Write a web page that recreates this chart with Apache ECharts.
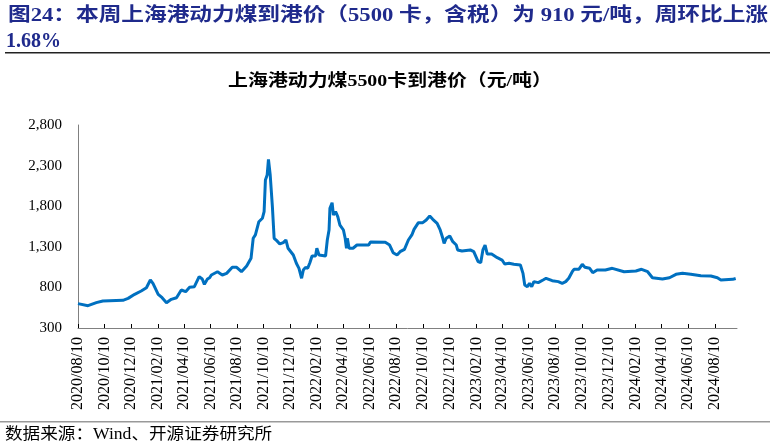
<!DOCTYPE html>
<html>
<head>
<meta charset="utf-8">
<script src="https://cdn.jsdelivr.net/npm/echarts@6/dist/echarts.min.js"></script>
<style>
  html, body { margin: 0; padding: 0; background: #fff; }
  #main { width: 774px; height: 448px; }
</style>
</head>
<body>
<div id="main"></div>
<script>
// 周度数据：日期 + 上海港动力煤5500卡到港价（元/吨）
var dates = [
  '2020-08-10','2020-09-02','2020-09-21','2020-10-06','2020-11-21','2020-12-03','2020-12-18',
  '2021-01-02','2021-01-14','2021-01-23','2021-01-29','2021-02-10','2021-02-19','2021-03-01',
  '2021-03-12','2021-03-24','2021-04-04','2021-04-14','2021-04-23','2021-05-04','2021-05-15',
  '2021-05-22','2021-05-27','2021-06-03','2021-06-08','2021-06-12','2021-06-26','2021-07-07',
  '2021-07-17','2021-07-30','2021-08-09','2021-08-20','2021-09-01','2021-09-11','2021-09-16',
  '2021-09-21','2021-09-29','2021-10-07','2021-10-11','2021-10-14','2021-10-18','2021-10-21',
  '2021-10-25','2021-10-30','2021-11-03','2021-11-09','2021-11-16','2021-11-24','2021-11-30',
  '2021-12-05','2021-12-17','2021-12-24','2021-12-30','2022-01-05','2022-01-09','2022-01-14',
  '2022-01-19','2022-01-24','2022-01-29','2022-02-06','2022-02-09','2022-02-14','2022-03-01',
  '2022-03-05','2022-03-09','2022-03-11','2022-03-16','2022-03-19','2022-03-24','2022-03-29',
  '2022-04-03','2022-04-11','2022-04-15','2022-04-18','2022-04-20','2022-04-24','2022-04-28',
  '2022-05-03','2022-05-12','2022-06-08','2022-06-12','2022-07-16','2022-07-26','2022-08-03',
  '2022-08-12','2022-08-19','2022-08-29','2022-09-07','2022-09-15','2022-09-20','2022-09-30',
  '2022-10-10','2022-10-18','2022-10-26','2022-11-02','2022-11-12','2022-11-19','2022-11-25',
  '2022-11-28','2022-12-03','2022-12-11','2022-12-18','2022-12-26','2022-12-29','2023-01-08',
  '2023-01-27','2023-02-04','2023-02-08','2023-02-14','2023-02-20','2023-02-25','2023-03-02',
  '2023-03-07','2023-03-17','2023-03-30','2023-04-10','2023-04-16','2023-04-26','2023-05-07',
  '2023-05-22','2023-05-28','2023-06-01','2023-06-07','2023-06-12','2023-06-17','2023-06-22',
  '2023-07-02','2023-07-13','2023-07-20','2023-08-03','2023-08-17','2023-08-26','2023-09-03',
  '2023-09-10','2023-09-18','2023-09-22','2023-10-03','2023-10-11','2023-10-17','2023-10-28',
  '2023-11-04','2023-11-14','2023-12-03','2023-12-19','2024-01-15','2024-02-11','2024-02-24',
  '2024-03-09','2024-03-20','2024-04-12','2024-04-28','2024-05-13','2024-05-28','2024-06-16',
  '2024-07-09','2024-08-01','2024-08-16','2024-08-24','2024-09-20','2024-09-27'
];
var prices = [
  600,575,612,632,641,665,715,
  756,796,891,850,715,673,612,
  653,673,768,747,801,809,932,
  903,838,903,919,953,993,953,
  973,1047,1047,993,1064,1158,1405,
  1446,1609,1651,1732,2123,2184,2377,
  2184,1794,1405,1376,1335,1351,1384,
  1282,1199,1097,1035,912,1014,1047,
  1035,1104,1187,1187,1282,1199,1187,
  1384,1507,1774,1843,1692,1732,1671,
  1568,1507,1405,1282,1405,1282,1302,
  1282,1322,1322,1359,1355,1322,1227,
  1199,1240,1269,1384,1446,1515,1597,
  1597,1630,1679,1638,1589,1507,1405,
  1343,1405,1433,1363,1322,1261,1248,
  1261,1240,1220,1117,1104,1261,1322,
  1211,1211,1166,1137,1088,1097,1084,
  1076,973,830,809,850,809,871,
  859,891,912,883,871,850,871,
  912,993,1023,1023,1084,1047,1035,
  981,1014,1014,1035,993,1002,1023,
  993,919,903,919,961,973,961,
  944,940,919,891,899,910
];
// x轴刻度标签（每两个月）
var tickLabels = [
  '2020/08/10','2020/10/10','2020/12/10','2021/02/10','2021/04/10','2021/06/10','2021/08/10',
  '2021/10/10','2021/12/10','2022/02/10','2022/04/10','2022/06/10','2022/08/10','2022/10/10',
  '2022/12/10','2023/02/10','2023/04/10','2023/06/10','2023/08/10','2023/10/10','2023/12/10',
  '2024/02/10','2024/04/10','2024/06/10','2024/08/10'
];
var yTicks = [300, 800, 1300, 1800, 2300, 2800];

// 日期转为天数（相对2020/08/10），x轴按数值轴处理
var DAY = 86400000;
var base = Date.UTC(2020, 7, 10);
function toDay(s) {
  var p = s.split(/[-\/]/);
  return Math.round((Date.UTC(+p[0], +p[1] - 1, +p[2]) - base) / DAY);
}

var lineData = [];
for (var i = 0; i < dates.length; i++) {
  lineData.push([toDay(dates[i]), prices[i]]);
}
var tickDays = tickLabels.map(toDay);
var labelMap = {};
tickDays.forEach(function (t, i) { labelMap[t] = tickLabels[i]; });

var latin = '"Liberation Serif", "Times New Roman", "Noto Sans CJK SC", serif';
var darkBlue = '#1f2a8c';

// 标题第一行两端对齐：按实际宽度横向缩放
var headText = '图24：本周上海港动力煤到港价（5500 卡，含税）为 910 元/吨，周环比上涨';
var headFont = 'bold 19px ' + latin;
var ctx = document.createElement('canvas').getContext('2d');
ctx.font = headFont;
var headScale = 760 / ctx.measureText(headText).width;

var myChart = echarts.init(document.getElementById('main'));
myChart.setOption({
  animation: false,
  backgroundColor: '#fff',
  grid: { left: 78, right: 37, top: 125, bottom: 120 },
  xAxis: {
    type: 'value',
    min: 0,
    max: toDay('2024-09-30'),
    axisLine: { lineStyle: { color: '#808080', width: 1 } },
    axisTick: { show: true, inside: true, length: 4, customValues: tickDays, lineStyle: { color: '#000' } },
    axisLabel: {
      customValues: tickDays,
      rotate: 90,
      margin: 9,
      fontFamily: latin,
      fontSize: 16,
      color: '#000',
      formatter: function (v) { return labelMap[v] || ''; }
    },
    splitLine: { show: false }
  },
  yAxis: {
    type: 'value',
    min: yTicks[0],
    max: yTicks[yTicks.length - 1],
    interval: 500,
    axisLine: { show: true, lineStyle: { color: '#808080', width: 1 } },
    axisTick: { show: false },
    axisLabel: {
      margin: 16,
      fontFamily: latin,
      fontSize: 15,
      color: '#000',
      formatter: function (v) { return v.toLocaleString('en-US'); }
    },
    splitLine: { show: false }
  },
  series: [{
    name: '上海港动力煤5500卡到港价',
    type: 'line',
    data: lineData,
    showSymbol: false,
    lineStyle: { color: '#0070c0', width: 3 },
    itemStyle: { color: '#0070c0' }
  }],
  graphic: [
    // 图表标题（原图横向略拉伸）
    {
      type: 'text', x: 390, y: 73, scaleX: 1.17,
      style: {
        text: '上海港动力煤5500卡到港价（元/吨）',
        font: 'bold 17px ' + latin, fill: '#000', textAlign: 'center', textVerticalAlign: 'top'
      }
    },
    {
      type: 'text', x: 8, y: 7, scaleX: headScale,
      style: { text: headText, font: headFont, fill: darkBlue, textVerticalAlign: 'top' }
    },
    {
      type: 'text', x: 6, y: 32,
      style: { text: '1.68%', font: 'bold 20px ' + latin, fill: darkBlue, textVerticalAlign: 'top' }
    },
    {
      type: 'rect', shape: { x: 5, y: 52, width: 765, height: 1.5 },
      style: { fill: '#222' }
    },
    {
      type: 'rect', shape: { x: 0, y: 421, width: 770, height: 1.5 },
      style: { fill: '#999' }
    },
    {
      type: 'text', x: 5, y: 427, scaleX: 1.1,
      style: { text: '数据来源：Wind、开源证券研究所', font: '16px ' + latin, fill: '#000', textVerticalAlign: 'top' }
    }
  ]
});
</script>
</body>
</html>
